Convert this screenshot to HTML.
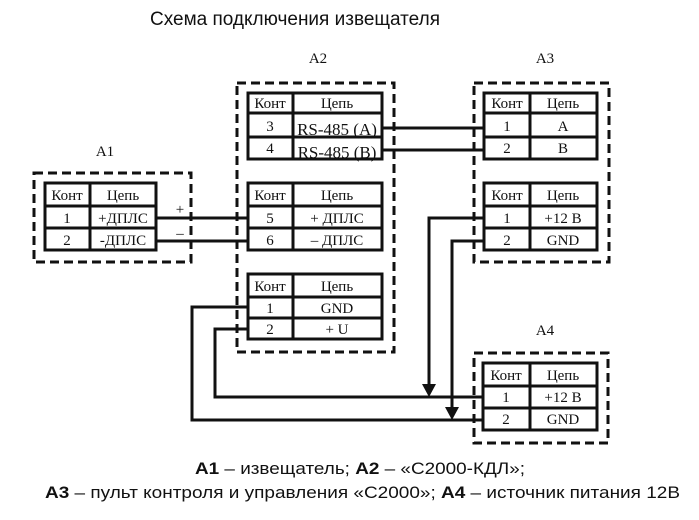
<!DOCTYPE html>
<html><head><meta charset="utf-8"><style>
html,body{margin:0;padding:0;background:#fff;}
svg{display:block;}
.t{font-family:"Liberation Serif",serif;font-size:15px;fill:#111;}
.s{font-family:"Liberation Sans",sans-serif;fill:#111;}
</style></head><body>
<svg width="699" height="520" viewBox="0 0 699 520" xmlns="http://www.w3.org/2000/svg">
<text class="s" x="150" y="25" font-size="19" textLength="290" lengthAdjust="spacingAndGlyphs">Схема подключения извещателя</text>
<text class="t" x="318" y="63" font-size="16" text-anchor="middle">A2</text>
<text class="t" x="545" y="63" font-size="16" text-anchor="middle">A3</text>
<text class="t" x="105" y="156" font-size="16" text-anchor="middle">A1</text>
<text class="t" x="545" y="335" font-size="16" text-anchor="middle">A4</text>

<g fill="none" stroke="#111" stroke-width="3" stroke-dasharray="9,5">
<rect x="237" y="83" width="157" height="269"/>
<rect x="474" y="83" width="135" height="179"/>
<rect x="34" y="173" width="157" height="89"/>
<rect x="474" y="353" width="134" height="90"/>
</g>

<g fill="none" stroke="#111" stroke-width="3">
<line x1="156" y1="218" x2="248" y2="218"/>
<line x1="156" y1="241" x2="248" y2="241"/>
<line x1="382" y1="128" x2="484" y2="128"/>
<line x1="382" y1="150" x2="484" y2="150"/>
<polyline points="484,218 429,218 429,386"/>
<polyline points="484,241 452,241 452,409"/>
<polyline points="248,329 215,329 215,397 483,397"/>
<polyline points="248,307 192,307 192,420 483,420"/>
</g>
<polygon points="422,384 436,384 429,397" fill="#111"/>
<polygon points="445,407 459,407 452,420" fill="#111"/>
<text class="t" x="180" y="214" font-size="22" text-anchor="middle">+</text>
<text class="t" x="180" y="238" font-size="22" text-anchor="middle">–</text>

<g fill="#fff" stroke="#111" stroke-width="3">
<rect x="248" y="93" width="134" height="66"/>
<line x1="293" y1="93" x2="293" y2="159"/><line x1="248" y1="113" x2="382" y2="113"/><line x1="248" y1="137" x2="382" y2="137"/>
<rect x="248" y="183" width="134" height="67"/>
<line x1="293" y1="183" x2="293" y2="250"/><line x1="248" y1="206" x2="382" y2="206"/><line x1="248" y1="228" x2="382" y2="228"/>
<rect x="248" y="274" width="134" height="65"/>
<line x1="293" y1="274" x2="293" y2="339"/><line x1="248" y1="297" x2="382" y2="297"/><line x1="248" y1="318" x2="382" y2="318"/>
<rect x="45" y="183" width="111" height="67"/>
<line x1="90" y1="183" x2="90" y2="250"/><line x1="45" y1="206" x2="156" y2="206"/><line x1="45" y1="228" x2="156" y2="228"/>
<rect x="484" y="93" width="113" height="66"/>
<line x1="530" y1="93" x2="530" y2="159"/><line x1="484" y1="113" x2="597" y2="113"/><line x1="484" y1="137" x2="597" y2="137"/>
<rect x="484" y="183" width="113" height="67"/>
<line x1="530" y1="183" x2="530" y2="250"/><line x1="484" y1="206" x2="597" y2="206"/><line x1="484" y1="228" x2="597" y2="228"/>
<rect x="483" y="363" width="114" height="67"/>
<line x1="530" y1="363" x2="530" y2="430"/><line x1="483" y1="386" x2="597" y2="386"/><line x1="483" y1="408" x2="597" y2="408"/>
</g>
<g class="t" text-anchor="middle">
<text x="270" y="108">Конт</text><text x="337" y="108">Цепь</text>
<text x="270" y="131">3</text><text x="337" y="135" font-size="17">RS-485 (A)</text>
<text x="270" y="153">4</text><text x="337" y="158" font-size="17">RS-485 (B)</text>
<text x="270" y="200">Конт</text><text x="337" y="200">Цепь</text>
<text x="270" y="223">5</text><text x="337" y="223">+ ДПЛС</text>
<text x="270" y="245">6</text><text x="337" y="245">– ДПЛС</text>
<text x="270" y="291">Конт</text><text x="337" y="291">Цепь</text>
<text x="270" y="313">1</text><text x="337" y="313">GND</text>
<text x="270" y="334">2</text><text x="337" y="334">+ U</text>
<text x="67" y="200">Конт</text><text x="123" y="200">Цепь</text>
<text x="67" y="223">1</text><text x="123" y="223">+ДПЛС</text>
<text x="67" y="245">2</text><text x="123" y="245">-ДПЛС</text>
<text x="507" y="108">Конт</text><text x="563" y="108">Цепь</text>
<text x="507" y="131">1</text><text x="563" y="131">A</text>
<text x="507" y="153">2</text><text x="563" y="153">B</text>
<text x="507" y="200">Конт</text><text x="563" y="200">Цепь</text>
<text x="507" y="223">1</text><text x="563" y="223">+12 B</text>
<text x="507" y="245">2</text><text x="563" y="245">GND</text>
<text x="506" y="380">Конт</text><text x="563" y="380">Цепь</text>
<text x="506" y="402">1</text><text x="563" y="402">+12 B</text>
<text x="506" y="424">2</text><text x="563" y="424">GND</text>
</g>

<text class="s" x="195" y="474" font-size="17" textLength="330" lengthAdjust="spacingAndGlyphs"><tspan font-weight="bold">A1</tspan> – извещатель; <tspan font-weight="bold">A2</tspan> – «С2000-КДЛ»;</text>
<text class="s" x="45" y="498" font-size="17" textLength="635" lengthAdjust="spacingAndGlyphs"><tspan font-weight="bold">A3</tspan> – пульт контроля и управления «С2000»; <tspan font-weight="bold">A4</tspan> – источник питания 12В</text>
</svg>
</body></html>
